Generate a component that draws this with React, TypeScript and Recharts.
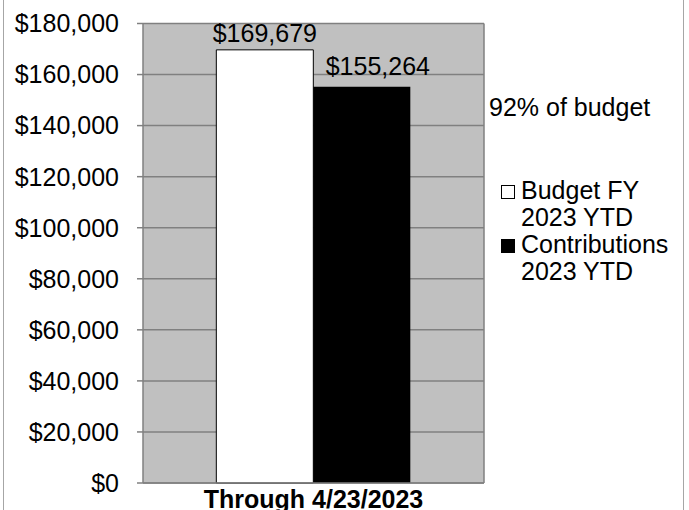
import { Bar, BarChart, CartesianGrid, LabelList, Legend, XAxis, YAxis } from 'recharts'

const categories = ['Through 4/23/2023']
const budgetYtd = [169679]
const contributionsYtd = [155264]
const yTicks = [0, 20000, 40000, 60000, 80000, 100000, 120000, 140000, 160000, 180000]

const data = categories.map((period, i) => ({
    period,
    budget: budgetYtd[i],
    contributions: contributionsYtd[i],
}))

const FONT = '"Liberation Sans", Arial, sans-serif'
const GRID = '#808080'

const money = (v: number) => `$${v.toLocaleString('en-US')}`

const pctOfBudget = Math.round(
    (contributionsYtd[0] / budgetYtd[0]) * 100
)

function LegendBox({ payload }: { payload?: any[] }) {
    const items = payload ?? []
    return (
        <div style={{ fontFamily: FONT, fontSize: 25, color: '#000', lineHeight: '27px' }}>
            <div style={{ marginBottom: 56 }}>{pctOfBudget}% of budget</div>
            {items.map(item => {
                const filled = item.dataKey === 'contributions'
                const lines = String(item.value).split('\n')
                return (
                    <div key={item.dataKey} style={{ display: 'flex', alignItems: 'flex-start' }}>
                        <span
                            style={{
                                display: 'inline-block',
                                width: 14,
                                height: 14,
                                marginTop: 8,
                                marginLeft: 12,
                                marginRight: 6,
                                boxSizing: 'border-box',
                                border: '1px solid #000',
                                background: filled ? '#000' : '#fff',
                                flex: 'none',
                            }}
                        />
                        <span>
                            {lines.map(l => (
                                <div key={l}>{l}</div>
                            ))}
                        </span>
                    </div>
                )
            })}
        </div>
    )
}

export default function App() {
    return (
        <div style={{ position: 'absolute', left: 0, top: 0, width: 689, height: 510, background: '#fff', overflow: 'hidden' }}>
            <div
                style={{
                    position: 'absolute',
                    left: 3,
                    top: -10,
                    width: 679,
                    height: 530,
                    border: '1px solid #a6a6a6',
                }}
            />
            <BarChart
                width={689}
                height={510}
                data={data}
                margin={{ top: 23.5, right: 204, left: 0, bottom: 0 }}
                barCategoryGap="21.5%"
                barGap={0}
                style={{ fontFamily: FONT }}
            >
                <CartesianGrid
                    vertical={false}
                    stroke={GRID}
                    strokeWidth={1.5}
                    fill="#c0c0c0"
                    fillOpacity={1}
                />
                <XAxis
                    dataKey="period"
                    height={27}
                    tickLine={false}
                    tickSize={0}
                    tickMargin={7}
                    axisLine={{ stroke: GRID, strokeWidth: 1.5 }}
                    tick={{ fill: '#000', fontSize: 25, fontWeight: 700, fontFamily: FONT }}
                />
                <YAxis
                    width={143}
                    domain={[0, 180000]}
                    ticks={yTicks}
                    tickFormatter={money}
                    tickSize={6}
                    tickMargin={18}
                    tickLine={{ stroke: GRID, strokeWidth: 1.5 }}
                    axisLine={{ stroke: GRID, strokeWidth: 1.5 }}
                    tick={{ fill: '#000', fontSize: 25, fontFamily: FONT }}
                    interval={0}
                />
                <YAxis
                    yAxisId="frame"
                    orientation="right"
                    width={1}
                    tick={false}
                    tickLine={false}
                    axisLine={{ stroke: GRID, strokeWidth: 1.5 }}
                />
                <Legend
                    layout="vertical"
                    align="center"
                    verticalAlign="middle"
                    content={<LegendBox />}
                    wrapperStyle={{ left: 489, top: 94, width: 200, height: 200 }}
                />
                <Bar
                    dataKey="budget"
                    name={'Budget FY\n2023 YTD'}
                    fill="#ffffff"
                    stroke="#000"
                    strokeWidth={1}
                    isAnimationActive={false}
                >
                    <LabelList
                        dataKey="budget"
                        position="top"
                        offset={8}
                        formatter={(v: any) => money(Number(v))}
                        style={{ fill: '#000', fontSize: 25, fontFamily: FONT }}
                    />
                </Bar>
                <Bar
                    dataKey="contributions"
                    name={'Contributions\n2023 YTD'}
                    fill="#000000"
                    isAnimationActive={false}
                >
                    <LabelList
                        dataKey="contributions"
                        position="top"
                        offset={12}
                        dx={16}
                        formatter={(v: any) => money(Number(v))}
                        style={{ fill: '#000', fontSize: 25, fontFamily: FONT }}
                    />
                </Bar>
            </BarChart>
        </div>
    )
}
